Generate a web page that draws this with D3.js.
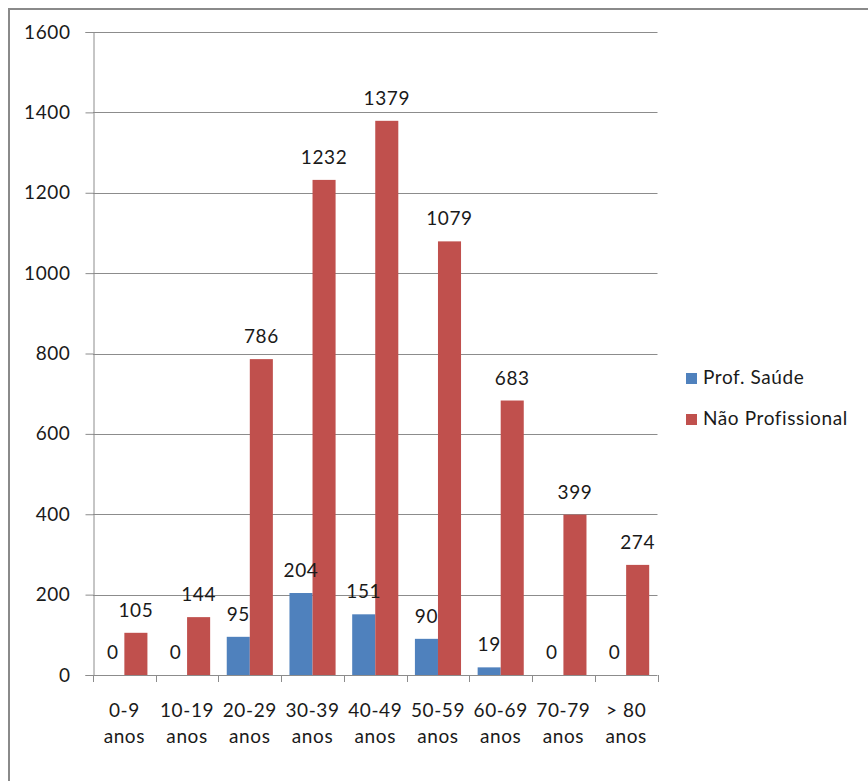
<!DOCTYPE html>
<html>
<head>
<meta charset="utf-8">
<script src="https://cdn.jsdelivr.net/npm/d3@7"></script>
<style>
  html, body { margin: 0; padding: 0; background: #fff; }
  svg { display: block; }
  text { font-family: Lato, "Open Sans", sans-serif; fill: #1a1a1a; letter-spacing: 0.6px; }
</style>
</head>
<body>
<svg id="chart" width="868" height="781"></svg>
<script>
// Age groups (two-line labels) and case counts per group
const categories = ["0-9|anos", "10-19|anos", "20-29|anos", "30-39|anos", "40-49|anos", "50-59|anos", "60-69|anos", "70-79|anos", "> 80|anos"];
const seriesNames = ["Prof. Saúde", "Não Profissional"];
const profSaude = [0, 0, 95, 204, 151, 90, 19, 0, 0];
const naoProfissional = [105, 144, 786, 1232, 1379, 1079, 683, 399, 274];
const yTicks = [0, 200, 400, 600, 800, 1000, 1200, 1400, 1600];
const colors = ["#4F81BD", "#C0504D"];
const fontSize = 19;

const svg = d3.select("#chart");

// Outer frame
svg.append("rect")
  .attr("x", 9).attr("y", 9)
  .attr("width", 900).attr("height", 900)
  .attr("fill", "none")
  .attr("stroke", "#8a8a8a")
  .attr("stroke-width", 2);

const plot = { left: 93, right: 657.5, top: 32, bottom: 675 };

const x = d3.scaleBand()
  .domain(categories)
  .range([plot.left, plot.right])
  .padding(0);

const x1 = d3.scaleBand()
  .domain(seriesNames)
  .range([0, x.bandwidth()])
  .paddingInner(0)
  .paddingOuter(0.36);

const y = d3.scaleLinear()
  .domain([0, 1600])
  .range([plot.bottom, plot.top]);

// Horizontal gridlines
svg.append("g")
  .selectAll("line")
  .data(yTicks.filter(d => d > 0))
  .join("line")
  .attr("x1", plot.left).attr("x2", plot.right)
  .attr("y1", d => Math.round(y(d)) + 0.5).attr("y2", d => Math.round(y(d)) + 0.5)
  .attr("stroke", "#8c8c8c")
  .attr("stroke-width", 1);

// Bars
const rows = categories.map((c, i) => ({ cat: c, values: [profSaude[i], naoProfissional[i]] }));
const groups = svg.append("g")
  .selectAll("g")
  .data(rows)
  .join("g")
  .attr("transform", d => `translate(${x(d.cat)},0)`);

groups.selectAll("rect")
  .data(d => d.values.map((v, k) => ({ key: seriesNames[k], v, k })))
  .join("rect")
  .attr("x", d => x1(d.key))
  .attr("y", d => y(d.v))
  .attr("width", x1.bandwidth())
  .attr("height", d => plot.bottom - y(d.v))
  .attr("fill", d => colors[d.k]);

// Value labels
groups.selectAll("text.val")
  .data(d => d.values.map((v, k) => ({ key: seriesNames[k], v, k })))
  .join("text")
  .attr("class", "val")
  .attr("x", d => x1(d.key) + x1.bandwidth() / 2)
  .attr("y", d => y(d.v) - 16)
  .attr("text-anchor", "middle")
  .attr("font-size", fontSize)
  .text(d => d.v);

// Y axis
const yAxis = d3.axisLeft(y)
  .tickValues(yTicks)
  .tickSize(8)
  .tickPadding(15)
  .tickFormat(d3.format("d"));
const yg = svg.append("g")
  .attr("transform", `translate(${plot.left + 0.5},0)`)
  .call(yAxis);
yg.select(".domain").attr("stroke", "#8c8c8c");
yg.selectAll(".tick line").attr("stroke", "#8c8c8c");
yg.selectAll(".tick text")
  .attr("font-size", fontSize)
  .attr("fill", "#1a1a1a")
  .style("font-family", "Lato, 'Open Sans', sans-serif");

// X axis: baseline and tick marks at band boundaries
const xg = svg.append("g");
xg.append("line")
  .attr("x1", plot.left).attr("x2", plot.right)
  .attr("y1", plot.bottom + 0.5).attr("y2", plot.bottom + 0.5)
  .attr("stroke", "#8c8c8c");
const bounds = categories.map(c => x(c)).concat([x(categories[categories.length - 1]) + x.bandwidth()]);
xg.selectAll("line.tk")
  .data(bounds)
  .join("line")
  .attr("class", "tk")
  .attr("x1", d => Math.round(d) + 0.5).attr("x2", d => Math.round(d) + 0.5)
  .attr("y1", plot.bottom).attr("y2", plot.bottom + 7)
  .attr("stroke", "#8c8c8c");

// Category labels (two lines)
const lab = xg.selectAll("text.cat")
  .data(categories)
  .join("text")
  .attr("class", "cat")
  .attr("text-anchor", "middle")
  .attr("font-size", fontSize)
  .attr("x", d => x(d) + x.bandwidth() / 2);
lab.selectAll("tspan")
  .data(d => d.split("|").map((t, i) => ({ t, i })))
  .join("tspan")
  .attr("x", function () { return d3.select(this.parentNode).attr("x"); })
  .attr("y", d => 717 + d.i * 26)
  .text(d => d.t);

// Legend
const legend = svg.append("g")
  .selectAll("g")
  .data(seriesNames)
  .join("g")
  .attr("transform", (d, i) => `translate(686,${373 + i * 41})`);
legend.append("rect")
  .attr("width", 11).attr("height", 11)
  .attr("fill", (d, i) => colors[i]);
legend.append("text")
  .attr("x", 17).attr("y", 11)
  .attr("font-size", fontSize)
  .text(d => d);
</script>
</body>
</html>
